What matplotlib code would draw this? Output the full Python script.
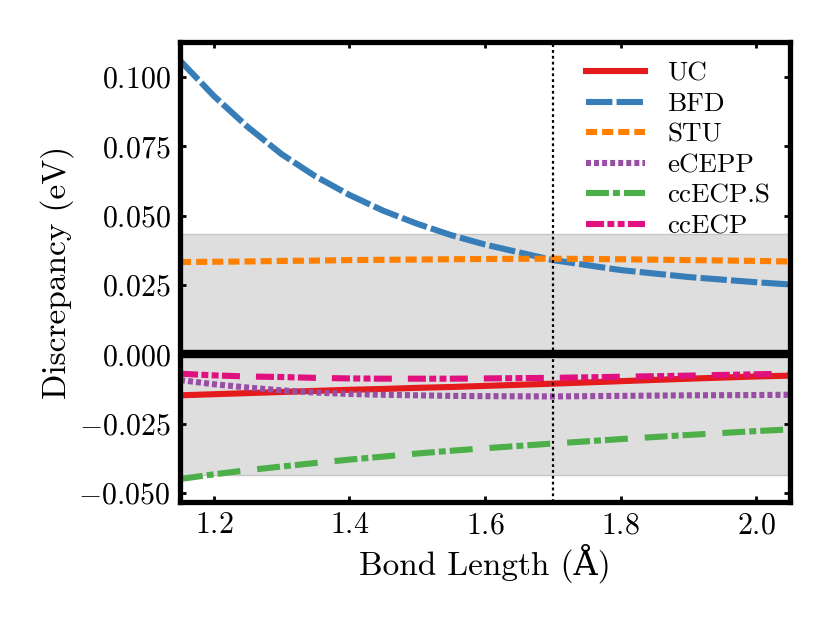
import matplotlib
matplotlib.use('Agg')
import matplotlib.pyplot as plt

plt.rcParams['font.family'] = ['cmr10', 'DejaVu Serif']
plt.rcParams['mathtext.fontset'] = 'cm'
plt.rcParams['axes.formatter.use_mathtext'] = True
plt.rcParams['lines.scale_dashes'] = False

# bond lengths (Angstrom)
bond = [1.15, 1.2, 1.25, 1.3, 1.35, 1.4, 1.45, 1.5, 1.55, 1.6, 1.7, 1.8, 1.9, 2.0, 2.05]

# discrepancies (eV)
uc = [-0.0148, -0.0144, -0.0140, -0.0136, -0.0132, -0.0128, -0.0125, -0.0121, -0.0118,
      -0.0114, -0.0106, -0.0097, -0.0088, -0.0080, -0.0077]
bfd = [0.106, 0.0932, 0.0820, 0.0722, 0.0642, 0.0575, 0.0518, 0.0471, 0.0430, 0.0396,
       0.0340, 0.0304, 0.0279, 0.0260, 0.0252]
stu = [0.0333, 0.0334, 0.0335, 0.0337, 0.0338, 0.0340, 0.0341, 0.0342, 0.0343, 0.0344,
       0.0345, 0.0343, 0.0340, 0.0337, 0.0335]
ecepp = [-0.0093, -0.0108, -0.0120, -0.0130, -0.0138, -0.0143, -0.0146, -0.0148, -0.0150,
         -0.0151, -0.0152, -0.0150, -0.0148, -0.0147, -0.0146]
ccecp_s = [-0.0450, -0.0433, -0.0418, -0.0405, -0.0392, -0.0380, -0.0369, -0.0358, -0.0348,
           -0.0339, -0.0322, -0.0306, -0.0291, -0.0277, -0.0271]
ccecp = [-0.0070, -0.0076, -0.0080, -0.0082, -0.0085, -0.0087, -0.0088, -0.0088, -0.0088,
         -0.0087, -0.0085, -0.0081, -0.0077, -0.0072, -0.0070]

chem_acc = 0.0434   # 1 kcal/mol in eV
r_eq = 1.7

fig = plt.figure(figsize=(8.3, 6.23), dpi=100)
ax = fig.add_axes([0.2169, 0.1942, 0.7349, 0.7384])

ax.axhspan(-chem_acc, chem_acc, facecolor='#dedede', edgecolor='#c6c6c6', lw=1, zorder=0)

lw = 4.4
ax.plot(bond, uc, color='#e41a1c', lw=lw, label='UC')
ax.plot(bond, bfd, color='#377eb8', lw=lw, dashes=(19, 3), label='BFD')
ax.plot(bond, stu, color='#ff7f00', lw=lw, dashes=(8, 3.6), label='STU')
ax.plot(bond, ecepp, color='#984ea3', lw=lw, dashes=(3.6, 2.2), label='eCEPP')
ax.plot(bond, ccecp_s, color='#4daf4a', lw=lw, dashes=(16.5, 2.9, 5, 2.9, 16.5, 12.2),
        label='ccECP.S')
ax.plot(bond, ccecp, color='#e0117f', lw=lw, dashes=(13, 2.4, 5, 2.4, 5, 2.4, 13, 11.5),
        label='ccECP')

ax.axhline(0, color='k', lw=6, zorder=5)
ax.axvline(r_eq, color='k', lw=1.6, dashes=(2, 2.2), zorder=6)

ax.set_xlim(1.15, 2.05)
ax.set_ylim(-0.0533, 0.1127)
ax.set_xticks([1.2, 1.4, 1.6, 1.8, 2.0])
ax.set_yticks([-0.05, -0.025, 0.0, 0.025, 0.05, 0.075, 0.1])

for s in ax.spines.values():
    s.set_linewidth(3.8)
ax.tick_params(direction='in', length=4.5, width=2, top=True, right=True,
               labelsize=21.5, pad=7)

ax.set_xlabel('Bond Length (Å)', fontsize=24, labelpad=3)
ax.set_ylabel('Discrepancy (eV)', fontsize=24, labelpad=3)

ax.legend(loc='upper left', bbox_to_anchor=(0.665, 0.957), frameon=False,
          fontsize=19.5, handlelength=2.2, handletextpad=0.81, labelspacing=0.24,
          borderaxespad=0, borderpad=0)

fig.savefig('out.png', dpi=100)
